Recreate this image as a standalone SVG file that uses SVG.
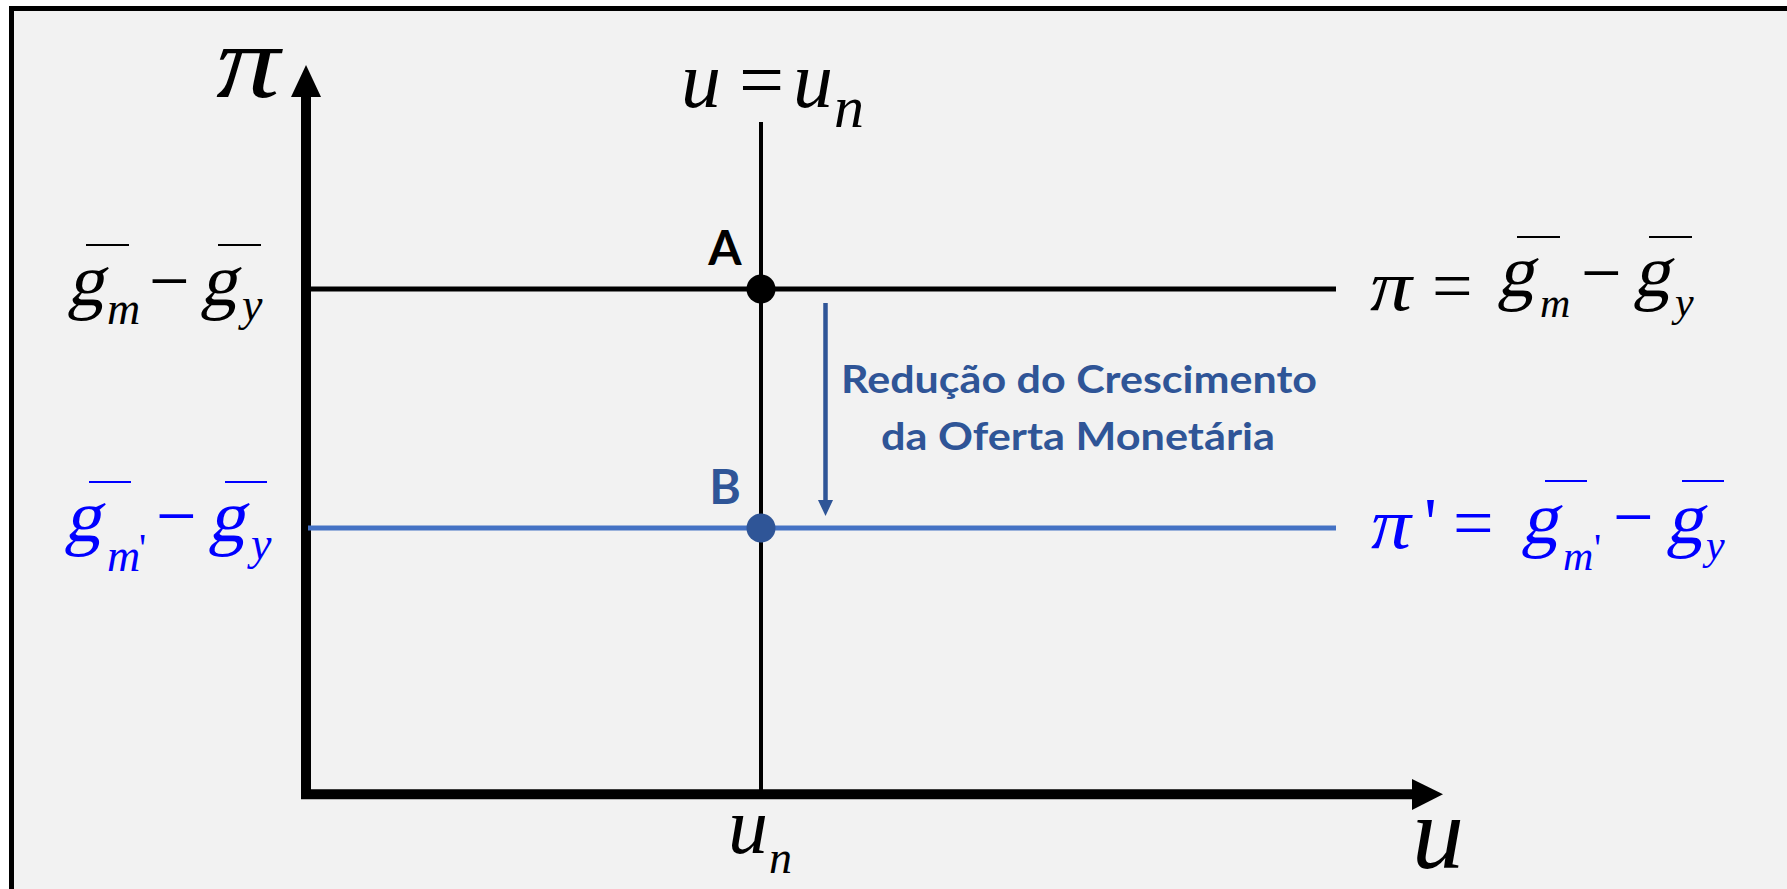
<svg xmlns="http://www.w3.org/2000/svg" width="1787" height="889" viewBox="0 0 1787 889">
<style>
.m{font-family:"Liberation Serif","Times New Roman",serif;font-style:italic;}
.r{font-family:"Liberation Serif","Times New Roman",serif;font-style:normal;}
.k{fill:#000;}
.bl{fill:#0000FF;}
.lbl{font-family:Lato,"Open Sans",sans-serif;font-weight:bold;}
.bar{stroke-width:2;}
</style>
<rect x="0" y="0" width="1787" height="889" fill="#FFFFFF"/>
<rect id="frame" x="11.5" y="8.5" width="1800" height="900" fill="#F2F2F2" stroke="#000" stroke-width="5"/>

<g id="connectors">
  <line x1="306" y1="97" x2="306" y2="799" stroke="#000" stroke-width="10"/>
  <polygon points="306,65 291,97 321,97" fill="#000"/>
  <line x1="301" y1="794.3" x2="1413" y2="794.3" stroke="#000" stroke-width="10"/>
  <polygon points="1443,794.3 1412,779 1412,810" fill="#000"/>
  <line x1="761" y1="122" x2="761" y2="794" stroke="#000" stroke-width="4"/>
  <line x1="308" y1="289" x2="1336" y2="289" stroke="#000" stroke-width="5"/>
  <line x1="308" y1="528" x2="1336" y2="528" stroke="#4472C4" stroke-width="5"/>
  <line x1="825.5" y1="303" x2="825.5" y2="502" stroke="#2F5597" stroke-width="4.5"/>
  <polygon points="825.5,516 818,500 833,500" fill="#2F5597"/>
</g>

<g id="axis-pi">
  <text class="m k" x="216" y="97" font-size="104" textLength="64" lengthAdjust="spacingAndGlyphs">π</text>
</g>
<g id="axis-u">
  <text class="m k" x="1412" y="868" font-size="104">u</text>
</g>
<g id="label-un-bottom">
  <text class="m k" x="728" y="853" font-size="80">u</text>
  <text class="m k" x="769" y="873" font-size="46">n</text>
</g>
<g id="label-u-eq-un">
  <text class="m k" x="681" y="107" font-size="80">u</text>
  <text class="r k" x="739" y="107" font-size="80">=</text>
  <text class="m k" x="793" y="107" font-size="80">u</text>
  <text class="m k" x="834" y="127" font-size="60">n</text>
</g>

<g id="point-A">
  <circle cx="761" cy="289" r="14.5" fill="#000"/>
  <text class="lbl" x="725" y="265" font-size="48" text-anchor="middle" fill="#000">A</text>
</g>
<g id="point-B">
  <circle cx="761" cy="528" r="14.5" fill="#2F5597"/>
  <text class="lbl" x="725" y="504" font-size="48" text-anchor="middle" fill="#2F5597">B</text>
</g>

<g id="label-shift">
  <text class="lbl" x="1079" y="393" font-size="38" text-anchor="middle" fill="#2F5597" textLength="476" lengthAdjust="spacingAndGlyphs">Redução do Crescimento</text>
  <text class="lbl" x="1078" y="450" font-size="38" text-anchor="middle" fill="#2F5597" textLength="394" lengthAdjust="spacingAndGlyphs">da Oferta Monetária</text>
</g>

<g id="left-A">
  <text class="r k" transform="translate(67,305) skewX(-12)" font-size="74">g</text>
  <text class="m k" x="107" y="324" font-size="46">m</text>
  <text class="r k" x="149" y="305" font-size="72">−</text>
  <text class="r k" transform="translate(200,305) skewX(-12)" font-size="74">g</text>
  <text class="m k" x="242" y="320" font-size="46">y</text>
  <line class="bar" x1="86" y1="245" x2="129" y2="245" stroke="#000"/>
  <line class="bar" x1="218" y1="245" x2="261" y2="245" stroke="#000"/>
</g>

<g id="left-B">
  <text class="r bl" transform="translate(64,541) skewX(-12)" font-size="74">g</text>
  <text class="m bl" x="107" y="571" font-size="46">m</text>
  <text class="r bl" x="139" y="561" font-size="40">'</text>
  <text class="r bl" x="156" y="540" font-size="72">−</text>
  <text class="r bl" transform="translate(208,541) skewX(-12)" font-size="74">g</text>
  <text class="m bl" x="251" y="559" font-size="46">y</text>
  <line class="bar" x1="89" y1="482" x2="131" y2="482" stroke="#0000FF"/>
  <line class="bar" x1="225" y1="482" x2="267" y2="482" stroke="#0000FF"/>
</g>

<g id="right-A">
  <text class="m k" x="1370" y="310" font-size="72" textLength="42" lengthAdjust="spacingAndGlyphs">π</text>
  <text class="r k" x="1432" y="310" font-size="72">=</text>
  <text class="r k" transform="translate(1497,296) skewX(-12)" font-size="74">g</text>
  <text class="m k" x="1540" y="317" font-size="42">m</text>
  <text class="r k" x="1581" y="297" font-size="72">−</text>
  <text class="r k" transform="translate(1633,296) skewX(-12)" font-size="74">g</text>
  <text class="m k" x="1675" y="316" font-size="42">y</text>
  <line class="bar" x1="1517" y1="237" x2="1560" y2="237" stroke="#000"/>
  <line class="bar" x1="1649" y1="237" x2="1692" y2="237" stroke="#000"/>
</g>

<g id="right-B">
  <text class="m bl" x="1371" y="548" font-size="72" textLength="40" lengthAdjust="spacingAndGlyphs">π</text>
  <text class="r bl" x="1424" y="547" font-size="72">'</text>
  <text class="r bl" x="1453" y="547" font-size="72">=</text>
  <text class="r bl" transform="translate(1521,543) skewX(-12)" font-size="74">g</text>
  <text class="m bl" x="1563" y="570" font-size="42">m</text>
  <text class="r bl" x="1594" y="561" font-size="40">'</text>
  <text class="r bl" x="1613" y="541" font-size="72">−</text>
  <text class="r bl" transform="translate(1666,543) skewX(-12)" font-size="74">g</text>
  <text class="m bl" x="1706" y="559" font-size="42">y</text>
  <line class="bar" x1="1545" y1="481" x2="1587" y2="481" stroke="#0000FF"/>
  <line class="bar" x1="1682" y1="481" x2="1724" y2="481" stroke="#0000FF"/>
</g>
</svg>
